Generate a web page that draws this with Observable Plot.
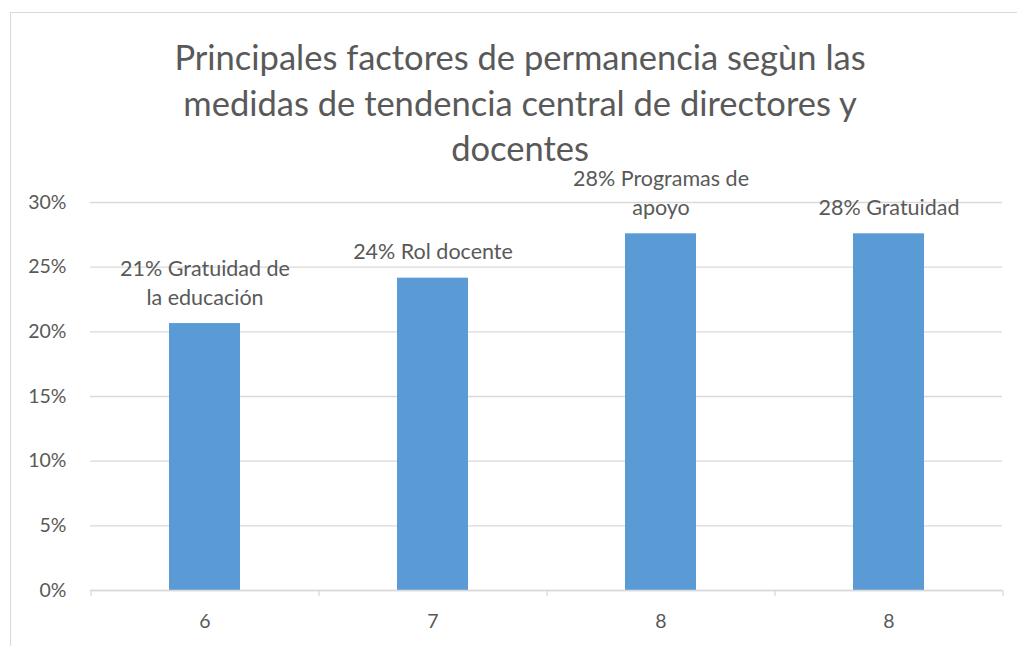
<!DOCTYPE html>
<html>
<head>
<meta charset="utf-8">
<script src="https://cdn.jsdelivr.net/npm/d3@7"></script>
<script src="https://cdn.jsdelivr.net/npm/@observablehq/plot@0.6"></script>
<style>
  html, body { margin: 0; padding: 0; background: #fff; overflow: hidden; }
  body { width: 1017px; height: 646px; position: relative; font-family: Lato, "Open Sans", sans-serif; }
  #frame { position: absolute; left: 10px; top: 12px; width: 1040px; height: 700px; border: 1px solid #d9d9d9; box-sizing: border-box; }
  #title { position: absolute; left: 10px; top: 34px; width: 1020px; text-align: center; color: #595959; font-size: 34.5px; line-height: 45.5px; }
  #chart { position: absolute; left: 0; top: 165px; }
</style>
</head>
<body>
<div id="frame"></div>
<div id="title">Principales factores de permanencia segùn las<br>medidas de tendencia central de directores y<br>docentes</div>
<div id="chart"></div>
<script>
const categories = ["6", "7", "8", "8"];
const values = [0.2064, 0.2415, 0.2758, 0.2758];
const labels = ["21% Gratuidad de\nla educación", "24% Rol docente", "28% Programas de\napoyo", "28% Gratuidad"];
const yTicks = [0, 0.05, 0.10, 0.15, 0.20, 0.25, 0.30];

const data = categories.map((c, i) => ({i, cat: c, value: values[i], label: labels[i]}));
const idx = data.map(d => d.i);

const W = 1017, H = 481, ML = 90, MR = 15;
const step = (W - ML - MR) / categories.length;

const plot = Plot.plot({
  width: W,
  height: H,
  marginLeft: ML,
  marginRight: MR,
  marginTop: 37,
  marginBottom: 56,
  style: {fontFamily: "Lato, 'Open Sans', sans-serif", fontSize: "19.5px", color: "#595959", background: "transparent"},
  x: {domain: idx, paddingInner: 0.69, paddingOuter: 0.345, align: 0.5},
  y: {domain: [0, 0.30]},
  marks: [
    Plot.gridY(yTicks, {stroke: "#d9d9d9", strokeOpacity: 1, strokeWidth: 1.3}),
    Plot.axisY(yTicks, {tickFormat: d3.format(".0%"), tickSize: 0, tickPadding: 24, fontSize: 19.5, fill: "#595959", label: null}),
    Plot.axisX({tickFormat: i => categories[i], tickSize: 0, tickPadding: 24, fontSize: 19.5, fill: "#595959", label: null}),
    Plot.axisX(idx, {dx: -step / 2, tickSize: 6, stroke: "#d9d9d9", strokeWidth: 1.3, tickFormat: () => "", label: null}),
    Plot.axisX([idx[idx.length - 1]], {dx: step / 2, tickSize: 6, stroke: "#d9d9d9", strokeWidth: 1.3, tickFormat: () => "", label: null}),
    Plot.barY(data, {x: "i", y: "value", fill: "#5b9bd5"}),
    Plot.ruleY([0], {stroke: "#d9d9d9", strokeWidth: 1.5}),
    Plot.text(data, {x: "i", y: "value", text: "label", lineAnchor: "bottom", lineHeight: 1.33, dy: -19, fontSize: 21.5, fill: "#595959"})
  ]
});
document.getElementById("chart").appendChild(plot);
</script>
</body>
</html>
